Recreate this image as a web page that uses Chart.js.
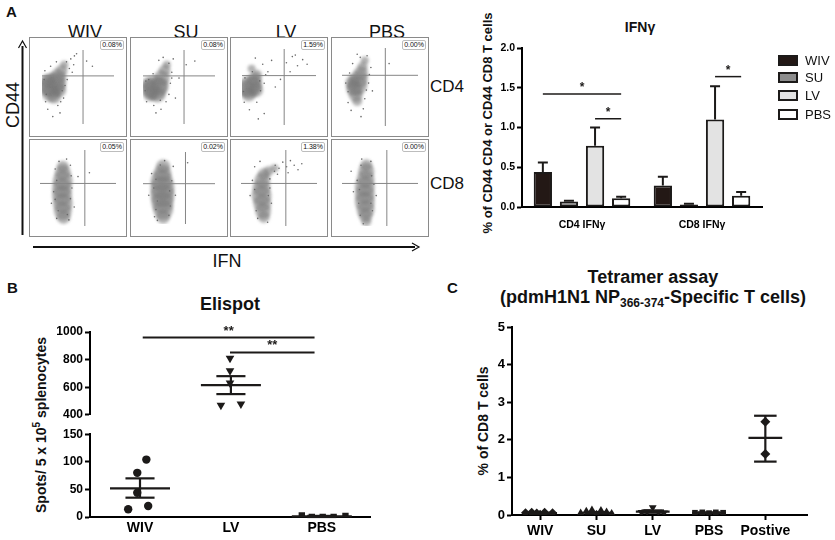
<!DOCTYPE html>
<html lang="en">
<head>
<meta charset="UTF-8" />
<title>IFNγ, Elispot and tetramer assay</title>
<script src="https://cdn.jsdelivr.net/npm/chart.js"></script>
<style>
  body { margin: 0; width: 835px; height: 540px; position: relative; overflow: hidden; background: #fff;
         font-family: "Liberation Sans", Arial, Helvetica, sans-serif; color: #111; }
  .t { position: absolute; white-space: nowrap; line-height: 1; }
  .b { font-weight: bold; }
  .rot { transform: translate(-50%, -50%) rotate(-90deg); }
  .mid { transform: translateX(-50%); }
  .flow { position: absolute; border: 1px solid #8a8a8a; box-sizing: border-box; }
  .flow canvas { display: block; }
  .pct { position: absolute; top: 2px; right: 2px; font-size: 7px; line-height: 8px; padding: 0 1px;
         border: 1px solid #bdbdbd; border-radius: 2px; background: #fff; }
  canvas.c { position: absolute; }
  .leg { position: absolute; left: 778px; width: 20px; height: 11px; box-sizing: border-box; border: 2px solid #1c1a19; }
</style>
</head>
<body>
  <div class="t b" style="left:6px;top:4px;font-size:15px">A</div>
  <div class="t b" style="left:7px;top:280px;font-size:15px">B</div>
  <div class="t b" style="left:447px;top:280px;font-size:15px">C</div>

  <div id="flowWrap"></div>
  <div class="t" style="left:430px;top:78px;font-size:17px">CD4</div>
  <div class="t" style="left:430px;top:175px;font-size:17px">CD8</div>
  <div class="t rot" style="left:13px;top:105px;font-size:18px">CD44</div>
  <div class="t" style="left:227px;top:252px;font-size:18px;transform:translateX(-50%)">IFN</div>
  <svg class="t" style="left:0;top:0" width="430" height="255">
    <line x1="22.5" y1="235" x2="22.5" y2="46" stroke="#111" stroke-width="2"/>
    <path d="M18.5 48 L22.5 41 L26.5 48" fill="none" stroke="#111" stroke-width="1.2"/>
    <line x1="33" y1="247" x2="415" y2="247" stroke="#111" stroke-width="2"/>
    <path d="M412 243 L419 247 L412 251" fill="none" stroke="#111" stroke-width="1.2"/>
  </svg>

  <div class="t b mid" style="left:640px;top:20px;font-size:14px">IFNγ</div>
  <div class="t b rot" style="left:487px;top:123px;font-size:13px">% of CD44 CD4 or CD44 CD8 T cells</div>
  <canvas id="ifnChart" class="c" width="330" height="240" style="left:440px;top:0"></canvas>
  <div id="ifnLegend"></div>

  <div class="t b mid" style="left:230px;top:295px;font-size:18px">Elispot</div>
  <div class="t b rot" style="left:40px;top:425px;font-size:14px">Spots/ 5 x 10<sup style="font-size:10px">5</sup> splenocytes</div>
  <canvas id="elisTop" class="c" width="380" height="104" style="left:0;top:320px"></canvas>
  <canvas id="elisLow" class="c" width="380" height="115" style="left:0;top:425px"></canvas>

  <div class="t b mid" style="left:653px;top:268px;font-size:18px">Tetramer assay</div>
  <div class="t b mid" style="left:653px;top:288px;font-size:18px">(pdmH1N1 NP<span style="font-size:12px;vertical-align:-4px">366-374</span>-Specific T cells)</div>
  <div class="t b rot" style="left:483px;top:421px;font-size:14px">% of CD8 T cells</div>
  <canvas id="tetChart" class="c" width="415" height="230" style="left:420px;top:310px"></canvas>

<script>
const FONT = '"Liberation Sans", Arial, Helvetica, sans-serif';
const INK = '#1c1a19';

// ---- panel A: flow plots, IFN (x) vs CD44 (y), both read on a 0-100 scale
const flowGroups = ['WIV', 'SU', 'LV', 'PBS'];
const cd4Pct = ['0.08%', '0.08%', '1.59%', '0.00%'];
const cd8Pct = ['0.05%', '0.02%', '1.38%', '0.00%'];
const cd4Gate = [57, 65];
const cd8Gate = [59, 56];

// dense part of each population: [x, y, spread]
const cd4Core = [
  [[14,52,12],[9,50,9],[20,56,10],[22,64,8],[27,72,6],[12,42,9],[17,37,7],[31,80,4],[8,58,7],[24,46,7]],
  [[17,49,12],[11,47,9],[23,52,9],[26,62,8],[30,72,6],[33,80,4],[10,40,7],[20,40,8],[8,54,7]],
  [[10,50,11],[6,48,8],[15,53,9],[17,60,7],[9,40,7],[20,66,5],[13,74,4],[19,46,7]],
  [[20,52,10],[16,48,8],[22,60,9],[25,68,7],[27,76,5],[18,40,7],[14,56,7],[30,84,4],[20,32,5]]
];
// sparse events
const cd4Dots = [
  [[5,30],[8,20],[22,25],[28,45],[35,60],[40,88],[45,92],[3,60],[25,15],[15,10],[38,75],[48,95],[30,35],[62,85],[70,78],[34,84],[42,70],[4,72],[12,78],[32,52],[26,30],[6,40],[20,84],[44,80]],
  [[3,45],[5,30],[15,25],[25,20],[38,55],[40,70],[42,88],[28,90],[45,35],[8,60],[50,62],[60,80],[72,85],[32,30],[18,15],[36,82],[4,58],[14,68],[36,40],[24,32],[40,62],[22,86]],
  [[3,30],[20,30],[25,45],[30,55],[35,70],[28,80],[40,85],[18,88],[60,82],[68,90],[75,78],[82,86],[65,70],[52,60],[45,50],[10,20],[30,15],[22,8],[88,80],[72,92],[4,62],[24,58],[14,70],[32,66],[2,44]],
  [[8,30],[12,20],[30,35],[35,55],[5,55],[38,75],[25,12],[20,92],[33,90],[10,68],[40,45],[62,80],[36,66],[8,44],[32,46],[28,22],[14,80],[24,88]]
];
const cd8Core = [
  [[30,78,6],[30,70,8],[30,60,10],[29,50,10],[29,40,10],[30,30,10],[30,20,9],[31,12,7]],
  [[28,80,7],[27,70,9],[26,60,11],[27,50,12],[27,40,12],[27,30,11],[28,20,10],[28,10,7]],
  [[30,68,6],[28,60,8],[27,50,9],[27,40,10],[28,30,9],[29,20,8],[30,12,6],[36,72,5],[44,76,4]],
  [[32,80,6],[32,72,8],[31,62,9],[30,52,10],[30,42,10],[30,32,10],[31,22,9],[31,14,7],[32,6,5]]
];
const cd8Dots = [
  [[20,75],[40,80],[22,10],[38,8],[18,45],[42,50],[25,85],[35,88],[15,30],[45,25],[65,70],[50,65],[22,60],[40,36],[24,20],[36,15],[20,35],[41,66]],
  [[15,50],[40,60],[18,20],[38,25],[12,70],[42,80],[30,88],[20,5],[45,40],[62,85],[8,40],[18,62],[37,46],[20,32],[36,12],[24,82],[16,10]],
  [[45,80],[50,76],[55,84],[60,78],[65,86],[70,80],[75,74],[62,70],[48,68],[15,60],[12,40],[20,20],[40,30],[38,50],[35,5],[25,85],[18,78],[80,82],[18,48],[36,40],[22,10],[44,72],[38,62]],
  [[20,60],[42,55],[22,30],[40,20],[25,80],[38,85],[28,3],[15,45],[45,40],[12,72],[23,48],[39,66],[24,14],[38,30],[26,88]]
];

// ---- panel A: IFNγ bars
const ifnCats = ['CD4 IFNγ', 'CD8 IFNγ'];
const ifnSeries = ['WIV', 'SU', 'LV', 'PBS'];
const ifnWIV = [0.44, 0.27];
const ifnSU = [0.07, 0.03];
const ifnLV = [0.77, 1.10];
const ifnPBS = [0.11, 0.14];
const ifnErrWIV = [0.12, 0.11];
const ifnErrSU = [0.01, 0.01];
const ifnErrLV = [0.23, 0.42];
const ifnErrPBS = [0.02, 0.05];
const ifnColors = ['#231815', '#8c8c8c', '#e3e3e3', '#ffffff'];
// [category, from series, to series, level]
const ifnSig = [[0, 0, 3, 1.42], [0, 2, 3, 1.11], [1, 2, 3, 1.64]];

// ---- panel B: Elispot
const elisCats = ['WIV', 'LV', 'PBS'];
const elisWIV = [104, 80, 44, 14, 20];
const elisWIVx = [1.07, 0.97, 0.97, 0.87, 1.09];
const elisLV = [810, 720, 630, 470, 478];
const elisLVx = [1.99, 1.99, 1.99, 1.89, 2.11];
const elisPBS = [3, 0, 0, 0, 2];
const elisPBSx = [2.78, 2.89, 3.01, 3.13, 3.26];
const elisMean = [52, 615, 1];
const elisHi = [70, 680, 2];
const elisLo = [35, 550, 0];
const elisSig = [[1.03, 2.92, 960], [1.99, 2.92, 852]];

// ---- panel C: tetramer
const tetCats = ['WIV', 'SU', 'LV', 'PBS', 'Postive'];
const tetWIV = [0.06, 0.07, 0.05, 0.02, 0.07, 0.06];
const tetWIVx = [0.74, 0.85, 0.94, 1.0, 1.08, 1.22];
const tetSU = [0.05, 0.10, 0.13, 0.02, 0.12, 0.08, 0.04];
const tetSUx = [1.72, 1.82, 1.92, 2.0, 2.08, 2.18, 2.27];
const tetLV = [0.07, 0.09, 0.20, 0.08, 0.06];
const tetLVx = [2.8, 2.9, 3.0, 3.1, 3.2];
const tetPBS = [0.06, 0.07, 0.05, 0.07, 0.06];
const tetPBSx = [3.75, 3.88, 4.0, 4.12, 4.25];
const tetPos = [2.48, 1.62];
const tetPosx = [5.0, 5.0];
const tetMean = [0.05, 0.06, 0.09, 0.06, 2.05];
const tetHi = [0.06, 0.08, 0.12, 0.07, 2.64];
const tetLo = [0.04, 0.04, 0.06, 0.05, 1.42];

// ---------- plugins
const barErr = {
  id: 'barErr',
  afterDatasetsDraw(chart) {
    const { ctx, scales: { y } } = chart;
    ctx.save();
    ctx.strokeStyle = INK;
    ctx.lineWidth = 2;
    chart.data.datasets.forEach((ds, i) => {
      chart.getDatasetMeta(i).data.forEach((bar, j) => {
        const top = y.getPixelForValue(ds.data[j] + ds.err[j]);
        ctx.beginPath();
        ctx.moveTo(bar.x, bar.y);
        ctx.lineTo(bar.x, top);
        ctx.moveTo(bar.x - 5, top);
        ctx.lineTo(bar.x + 5, top);
        ctx.stroke();
      });
    });
    ctx.restore();
  }
};

const sigLines = {
  id: 'sigLines',
  afterDatasetsDraw(chart, args, opts) {
    if (!opts.items) return;
    const { ctx, scales: { x, y } } = chart;
    const px = v => Array.isArray(v) ? chart.getDatasetMeta(v[0]).data[v[1]].x : x.getPixelForValue(v);
    ctx.save();
    ctx.strokeStyle = INK;
    ctx.fillStyle = INK;
    ctx.lineWidth = opts.width;
    ctx.font = opts.font;
    ctx.textAlign = 'center';
    ctx.textBaseline = 'alphabetic';
    opts.items.forEach(it => {
      const x1 = px(it.x1), x2 = px(it.x2), yy = y.getPixelForValue(it.y);
      ctx.beginPath();
      ctx.moveTo(x1, yy);
      ctx.lineTo(x2, yy);
      ctx.stroke();
      ctx.fillText(it.label, (x1 + x2) / 2, yy - 3 + opts.lift);
    });
    ctx.restore();
  }
};

const meanSem = {
  id: 'meanSem',
  afterDatasetsDraw(chart, args, o) {
    if (!o.means) return;
    const { ctx, scales: { x, y } } = chart;
    const inRange = v => v >= y.min && v <= y.max;
    ctx.save();
    ctx.strokeStyle = INK;
    ctx.lineWidth = 2.2;
    const hline = (cx, v, hw) => {
      if (!inRange(v)) return;
      const yy = y.getPixelForValue(v);
      ctx.beginPath();
      ctx.moveTo(x.getPixelForValue(cx - hw), yy);
      ctx.lineTo(x.getPixelForValue(cx + hw), yy);
      ctx.stroke();
    };
    o.means.forEach((m, i) => {
      const cx = i + 1;
      hline(cx, m, o.meanHW);
      hline(cx, o.hi[i], o.capHW);
      hline(cx, o.lo[i], o.capHW);
      const a = Math.max(o.lo[i], y.min), b = Math.min(o.hi[i], y.max);
      if (a < b) {
        ctx.beginPath();
        ctx.moveTo(x.getPixelForValue(cx), y.getPixelForValue(a));
        ctx.lineTo(x.getPixelForValue(cx), y.getPixelForValue(b));
        ctx.stroke();
      }
    });
    ctx.restore();
  }
};

// soften the dense part of a flow population
const softCore = {
  id: 'softCore',
  beforeDatasetDraw(chart, args) {
    if (chart.data.datasets[args.index].soft) {
      chart.ctx.save();
      chart.ctx.filter = 'blur(1.6px)';
    }
  },
  afterDatasetDraw(chart, args) {
    if (chart.data.datasets[args.index].soft) chart.ctx.restore();
  }
};

// ---------- flow plots
const flowLeft = [29, 130, 230, 331];
const flowTop = [37, 139];
const flowH = [100, 98];

function flowPlot(host, left, top, h, core, dots, gate, pct) {
  const box = document.createElement('div');
  box.className = 'flow';
  box.style.cssText = `left:${left}px;top:${top}px;width:98px;height:${h}px`;
  const cv = document.createElement('canvas');
  cv.width = 96; cv.height = h - 2;
  box.appendChild(cv);
  const tag = document.createElement('div');
  tag.className = 'pct';
  tag.textContent = pct;
  box.appendChild(tag);
  host.appendChild(box);
  new Chart(cv, {
    type: 'scatter',
    data: { datasets: [
      { type: 'line', data: [{ x: gate[0], y: 0 }, { x: gate[0], y: 100 }], borderColor: '#858585', borderWidth: 1, pointRadius: 0 },
      { type: 'line', data: [{ x: 0, y: gate[1] }, { x: 100, y: gate[1] }], borderColor: '#858585', borderWidth: 1, pointRadius: 0 },
      { type: 'scatter', data: dots.map(([x, y]) => ({ x, y })), pointRadius: 0.8, backgroundColor: '#6a6a6a', borderWidth: 0 },
      { type: 'bubble', soft: true, data: core.map(([x, y, r]) => ({ x, y, r })), backgroundColor: 'rgba(118,118,118,0.55)', borderWidth: 0 }
    ] },
    options: {
      responsive: false, animation: false, events: [],
      layout: { padding: 0 },
      scales: {
        x: { type: 'linear', min: 0, max: 100, display: false },
        y: { type: 'linear', min: 0, max: 100, display: false }
      },
      plugins: { legend: { display: false }, tooltip: { enabled: false } }
    },
    plugins: [softCore]
  });
}

const flowHost = document.getElementById('flowWrap');
flowGroups.forEach((g, i) => {
  const hd = document.createElement('div');
  hd.className = 't mid';
  hd.style.cssText = `left:${flowLeft[i] + 56}px;top:23px;font-size:18px`;
  hd.textContent = g;
  flowHost.appendChild(hd);
  flowPlot(flowHost, flowLeft[i], flowTop[0], flowH[0], cd4Core[i], cd4Dots[i], cd4Gate, cd4Pct[i]);
  flowPlot(flowHost, flowLeft[i], flowTop[1], flowH[1], cd8Core[i], cd8Dots[i], cd8Gate, cd8Pct[i]);
});

// ---------- shared axis helpers
const tickFont = size => ({ family: FONT, weight: 'bold', size });
function yAxis(min, max, step, size, width, fmt) {
  return {
    type: 'linear', min, max,
    ticks: { stepSize: step, color: '#000', font: tickFont(size), padding: 2, callback: fmt },
    grid: { display: true, drawOnChartArea: false, drawTicks: true, tickLength: 5, tickColor: '#000', tickWidth: 2 },
    border: { display: true, color: '#000', width: 2 },
    afterFit: s => { s.width = width; }
  };
}
function catAxis(min, max, cats, size, height, tickLen) {
  return {
    type: 'linear', min, max,
    afterBuildTicks: s => { s.ticks = cats.map((c, i) => ({ value: i + 1 })); },
    ticks: { autoSkip: false, color: '#000', font: tickFont(size), padding: 3, maxRotation: 0,
             callback: v => cats[v - 1] },
    grid: { display: tickLen > 0, drawOnChartArea: false, drawTicks: tickLen > 0, tickLength: tickLen, tickColor: '#000', tickWidth: 2 },
    border: { display: true, color: '#000', width: 2 },
    afterFit: s => { s.height = height; }
  };
}
const quiet = { legend: { display: false }, tooltip: { enabled: false } };

// ---------- IFNγ bars
const ifnMeans = [ifnWIV, ifnSU, ifnLV, ifnPBS];
const ifnErrs = [ifnErrWIV, ifnErrSU, ifnErrLV, ifnErrPBS];
new Chart(document.getElementById('ifnChart'), {
  type: 'bar',
  data: {
    labels: ifnCats,
    datasets: ifnSeries.map((s, i) => ({
      label: s, data: ifnMeans[i], err: ifnErrs[i],
      backgroundColor: ifnColors[i], borderColor: INK, borderWidth: 2, borderSkipped: false,
      categoryPercentage: 0.87, barPercentage: 0.7
    }))
  },
  options: {
    responsive: false, animation: false, events: [],
    layout: { padding: { top: 48, right: 8, left: 0, bottom: 0 } },
    scales: {
      x: {
        ticks: { color: '#000', font: tickFont(10.5), padding: 4 },
        grid: { display: false },
        border: { display: true, color: '#000', width: 2 },
        afterFit: s => { s.height = 33; }
      },
      y: yAxis(0, 2, 0.5, 10.5, 82, v => v.toFixed(1))
    },
    plugins: {
      ...quiet,
      sigLines: {
        width: 1.5, lift: 0, font: `bold 12px ${FONT}`,
        items: ifnSig.map(([c, a, b, lv]) => ({ x1: [a, c], x2: [b, c], y: lv, label: '*' }))
      }
    }
  },
  plugins: [barErr, sigLines]
});

const legHost = document.getElementById('ifnLegend');
const legRows = [60, 77, 95, 114];
ifnSeries.forEach((s, i) => {
  const b = document.createElement('div');
  b.className = 'leg';
  b.style.top = (legRows[i] - 5.5) + 'px';
  b.style.background = ifnColors[i];
  legHost.appendChild(b);
  const t = document.createElement('div');
  t.className = 't';
  t.style.cssText = `left:805px;top:${legRows[i] - 6.5}px;font-size:13px`;
  t.textContent = s;
  legHost.appendChild(t);
});

// ---------- Elispot (broken y axis: two stacked charts)
const pts = (xs, ys) => ys.map((v, i) => ({ x: xs[i], y: v }));
const elisSets = [
  { data: pts(elisWIVx, elisWIV), pointStyle: 'circle', pointRadius: 4.2 },
  { data: pts(elisLVx, elisLV), pointStyle: 'triangle', rotation: 180, pointRadius: 5 },
  { data: pts(elisPBSx, elisPBS), pointStyle: 'rect', pointRadius: 4.5 }
];
const elisMeanSem = { means: elisMean, hi: elisHi, lo: elisLo, meanHW: 0.33, capHW: 0.16 };
function elisChart(id, min, max, step, pad, showX, sig) {
  const yS = yAxis(min, max, step, 12, 90, v => v);
  return new Chart(document.getElementById(id), {
    type: 'scatter',
    data: {
      datasets: elisSets.map(d => ({
        ...d, data: d.data.filter(p => p.y >= min && p.y <= max),
        backgroundColor: INK, borderColor: INK, borderWidth: 0
      }))
    },
    options: {
      responsive: false, animation: false, events: [],
      layout: { padding: pad },
      scales: {
        x: showX ? catAxis(0.45, 3.53, elisCats, 14, 23, 0) : { type: 'linear', min: 0.45, max: 3.53, display: false },
        y: yS
      },
      plugins: {
        ...quiet,
        meanSem: elisMeanSem,
        sigLines: { width: 2, lift: 0, font: `bold 13px ${FONT}`, items: sig }
      }
    },
    plugins: [meanSem, sigLines]
  });
}
elisChart('elisTop', 400, 1000, 200, { top: 12, bottom: 7, right: 10, left: 0 }, false,
  elisSig.map(([a, b, lv]) => ({ x1: a, x2: b, y: lv, label: '**' })));
elisChart('elisLow', 0, 150, 50, { top: 7, bottom: 0, right: 10, left: 0 }, true, []);

// ---------- tetramer assay
const tetSets = [
  { data: pts(tetWIVx, tetWIV), pointStyle: 'rectRot', pointRadius: 4.5 },
  { data: pts(tetSUx, tetSU), pointStyle: 'triangle', pointRadius: 4.5 },
  { data: pts(tetLVx, tetLV), pointStyle: 'triangle', rotation: 180, pointRadius: 4.5 },
  { data: pts(tetPBSx, tetPBS), pointStyle: 'rect', pointRadius: 4 },
  { data: pts(tetPosx, tetPos), pointStyle: 'rectRot', pointRadius: 5 }
];
new Chart(document.getElementById('tetChart'), {
  type: 'scatter',
  data: { datasets: tetSets.map(d => ({ ...d, backgroundColor: INK, borderColor: INK, borderWidth: 0 })) },
  options: {
    responsive: false, animation: false, events: [],
    layout: { padding: { top: 17, right: 28, left: 0, bottom: 0 } },
    scales: {
      x: catAxis(0.5, 5.74, tetCats, 14, 25, 5),
      y: yAxis(0, 5, 1, 13, 92, v => v)
    },
    plugins: {
      ...quiet,
      meanSem: { means: tetMean, hi: tetHi, lo: tetLo, meanHW: 0.3, capHW: 0.2 }
    }
  },
  plugins: [meanSem]
});
</script>
</body>
</html>
